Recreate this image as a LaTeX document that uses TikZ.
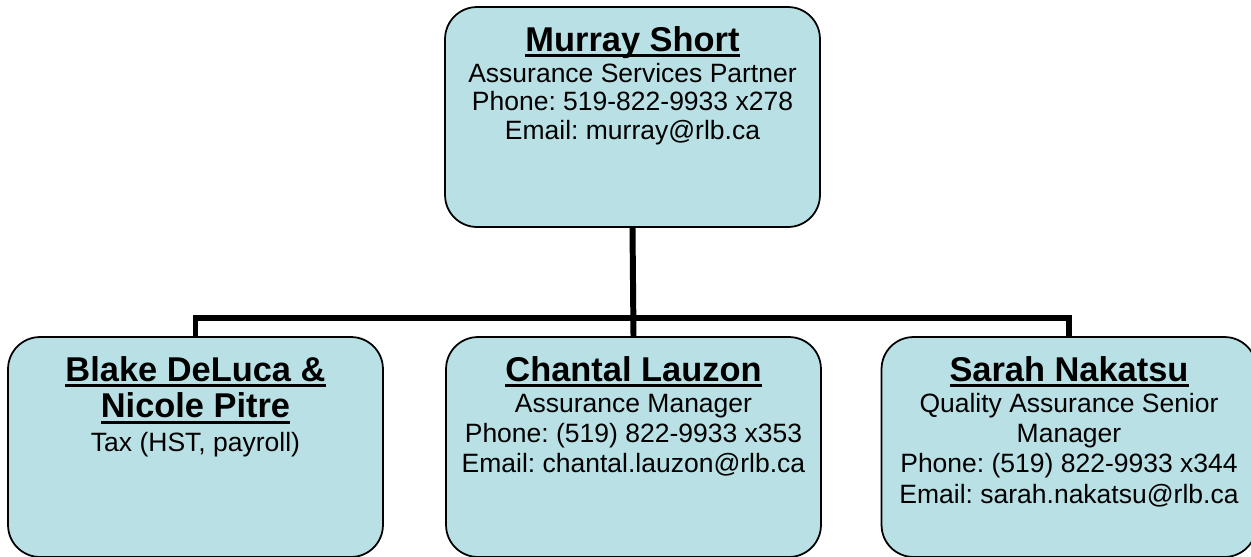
\documentclass[tikz,border=0pt]{standalone}
\usepackage{fontspec}
\setmainfont{Liberation Sans}
\usepackage{xcolor}
\usepackage{tikz}
\usetikzlibrary{positioning}
\definecolor{cardfill}{HTML}{B9E0E4}
\frenchspacing
\def\bodyfont{\fontsize{15.08pt}{16.3pt}\selectfont}
\def\subfont{\fontsize{15.08pt}{17.2pt}\selectfont}
\def\namefont{\fontsize{19.58pt}{20pt}\selectfont\bfseries}
\newcommand{\nm}[1]{{\namefont\setbox0\hbox{#1}\rlap{\smash{\rule[-3.4pt]{\wd0}{1.7pt}}}\box0}}

\begin{document}
\begin{tikzpicture}[x=0.02cm, y=-0.02cm,
  card/.style={draw=black, line width=1pt, fill=cardfill, rounded corners=0.64cm,
    minimum width=7.5cm, minimum height=4.4cm, inner sep=0pt},
  info/.style={align=center, inner sep=0pt, font=\bodyfont},
  subinfo/.style={info, font=\subfont},
  link/.style={line width=3.4pt}]
\useasboundingbox (0, 0) rectangle (1251, 556);
\clip (0, 0) rectangle (1251, 556);

% boxes
\node[card] (murray) at (632.5, 117) {};
\node[card] (blake) at (195.5, 447) {};
\node[card] (chantal) at (633.5, 447) {};
\node[card] (sarah) at (1069, 447) {};

% lines
\draw[link] (murray.south) -- (chantal.north);
\draw[link] (blake.north) -- ++(0, -18) -| (sarah.north);

% texts
\node[info, below=0.4cm of murray.north] (murraytxt) {\nm{Murray Short}\\[1.3pt]
  Assurance Services Partner\\ Phone: 519-822-9933 x278\\ Email: murray@rlb.ca};
\node[subinfo, below=0.4cm of blake.north] (blaketxt) {\nm{Blake DeLuca \&}\\[3.6pt]
  \nm{Nicole Pitre}\\[1.9pt] Tax (HST, payroll)};
\node[subinfo, below=0.4cm of chantal.north] (chantaltxt) {\nm{Chantal Lauzon}\\[0.4pt]
  Assurance Manager\\ Phone: (519) 822-9933 x353\\ Email: chantal.lauzon@rlb.ca};
\node[subinfo, below=0.4cm of sarah.north] (sarahtxt) {\nm{Sarah Nakatsu}\\[0.4pt]
  Quality Assurance Senior\\ Manager\\ Phone: (519) 822-9933 x344\\ Email: sarah.nakatsu@rlb.ca};
\end{tikzpicture}
\end{document}
